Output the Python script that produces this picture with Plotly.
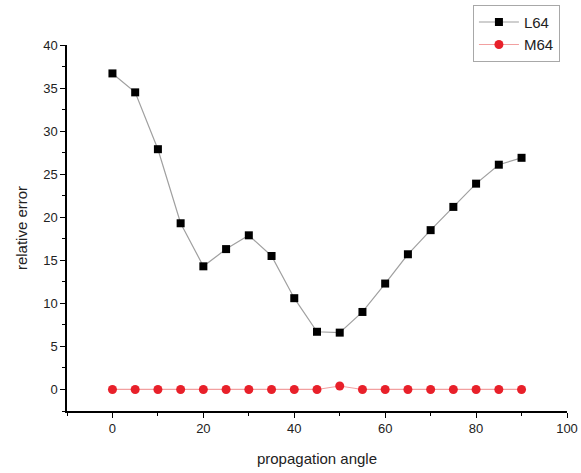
import plotly.graph_objects as go

# Propagation angles (degrees)
angles = [0, 5, 10, 15, 20, 25, 30, 35, 40, 45, 50, 55, 60, 65, 70, 75, 80, 85, 90]

# Relative error for each scheme
l64_error = [36.7, 34.5, 27.9, 19.3, 14.3, 16.3, 17.9, 15.5, 10.6, 6.7, 6.6,
             9.0, 12.3, 15.7, 18.5, 21.2, 23.9, 26.1, 26.9]
m64_error = [0.0, 0.0, 0.0, 0.0, 0.0, 0.0, 0.0, 0.0, 0.0, 0.0, 0.4,
             0.0, 0.0, 0.0, 0.0, 0.0, 0.0, 0.0, 0.0]

FONT = "Liberation Sans, Arial, sans-serif"

fig = go.Figure()
fig.add_trace(go.Scatter(
    x=angles, y=l64_error, name="L64", mode="lines+markers",
    line=dict(color="#a0a0a0", width=1.2),
    marker=dict(symbol="square", size=8, color="black"),
))
fig.add_trace(go.Scatter(
    x=angles, y=m64_error, name="M64", mode="lines+markers",
    line=dict(color="#f2a0a0", width=1.2),
    marker=dict(symbol="circle", size=9, color="#e8202a"),
))

axis_common = dict(
    showline=True, linecolor="black", linewidth=1.5,
    ticks="outside", ticklen=5, tickcolor="black", tickwidth=1,
    showgrid=False, zeroline=False, mirror=False,
    tickfont=dict(family=FONT, size=13, color="#222"),
)

fig.update_xaxes(
    range=[-10, 100], tick0=0, dtick=20,
    minor=dict(ticks="outside", ticklen=3, dtick=10, tick0=0, tickcolor="black"),
    title=dict(text="propagation angle", font=dict(family=FONT, size=15, color="#222"),
               standoff=18),
    **axis_common,
)
fig.update_yaxes(
    range=[-2.5, 40], tick0=0, dtick=5,
    minor=dict(ticks="outside", ticklen=3, dtick=2.5, tick0=0, tickcolor="black"),
    title=dict(text="relative error", font=dict(family=FONT, size=15, color="#222"),
               standoff=12),
    **axis_common,
)

fig.update_layout(
    width=581, height=473,
    margin=dict(l=67, r=14, t=45, b=62, autoexpand=False),
    plot_bgcolor="white", paper_bgcolor="white",
    font=dict(family=FONT, color="#222"),
    legend=dict(
        xref="container", yref="container",
        x=0.814, y=0.99, xanchor="left", yanchor="top",
        bordercolor="#a8a8a8", borderwidth=1, bgcolor="white",
        font=dict(family=FONT, size=15, color="#222"),
        tracegroupgap=0, itemwidth=40,
        entrywidth=50, entrywidthmode="pixels",
    ),
)

fig.write_html("out.html")
